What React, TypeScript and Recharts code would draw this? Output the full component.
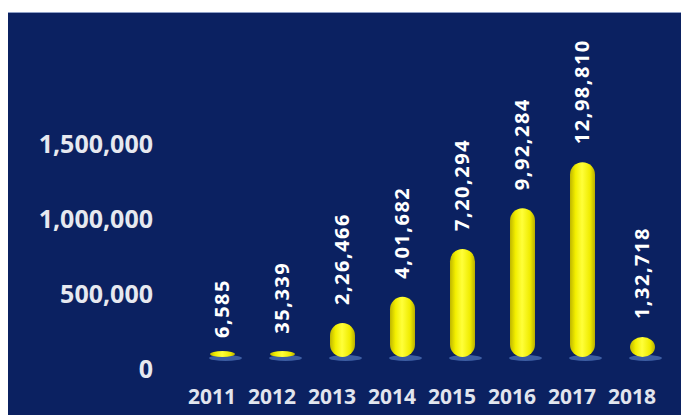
// Yearly totals shown as yellow capsule bars on a navy panel
import { BarChart, Bar, XAxis, YAxis, LabelList } from "recharts";

const years = ["2011", "2012", "2013", "2014", "2015", "2016", "2017", "2018"];
const totals = [6585, 35339, 226466, 401682, 720294, 992284, 1298810, 132718];
const yTicks = [0, 500000, 1000000, 1500000];

const data = years.map((year, i) => ({ year, total: totals[i] }));

const NAVY = "#0b2161";
const FONT = "'Open Sans', 'DejaVu Sans', sans-serif";

// Indian digit grouping: 12,98,810
function indian(n: number) {
  const s = String(n);
  if (s.length <= 3) return s;
  const last3 = s.slice(-3);
  let rest = s.slice(0, -3);
  const parts: string[] = [];
  while (rest.length > 2) {
    parts.unshift(rest.slice(-2));
    rest = rest.slice(0, -2);
  }
  if (rest) parts.unshift(rest);
  return parts.join(",") + "," + last3;
}

function western(n: number) {
  return String(n).replace(/\B(?=(\d{3})+(?!\d))/g, ",");
}

function Capsule(props: any) {
  const { x, y, width, height } = props;
  const h = Math.max(height, 6);
  const top = y + height - h;
  const base = y + height;
  return (
    <g>
      <ellipse cx={x + width / 2 + 3} cy={base + 1} rx={width / 2 + 4} ry={3} fill="#4d72b8" opacity={0.75} />
      <rect x={x} y={top} width={width} height={h} rx={width / 2} ry={Math.min(width / 2, h / 2)} fill="url(#capsuleFill)" />
    </g>
  );
}

function ValueLabel(props: any) {
  const { x, y, width, value } = props;
  const cx = x + width / 2 + 7;
  const ly = y - 18;
  return (
    <text
      x={cx}
      y={ly}
      transform={`rotate(-90 ${cx} ${ly})`}
      textAnchor="start"
      fill="#ffffff"
      fontFamily={FONT}
      fontWeight={700}
      fontSize={20}
      letterSpacing={1.5}
    >
      {indian(value)}
    </text>
  );
}

function XTick(props: any) {
  const { x, payload } = props;
  return (
    <text x={x - 10} y={383} textAnchor="middle" dominantBaseline="central" fill="#e1e5ee" fontFamily={FONT} fontWeight={700} fontSize={21}>
      {payload.value}
    </text>
  );
}

function YTick(props: any) {
  const { x, y, payload } = props;
  return (
    <text x={x - 31} y={y + 11} textAnchor="end" dominantBaseline="central" fill="#e6e9f0" fontFamily={FONT} fontWeight={700} fontSize={25}>
      {western(payload.value)}
    </text>
  );
}

export default function App() {
  return (
    <div style={{ marginTop: 4, width: 681, height: 403, background: NAVY, borderTop: "1px solid #8e9fc6", boxSizing: "border-box" }}>
      <BarChart width={681} height={402} data={data} margin={{ top: 119, right: 17, left: 0, bottom: 0 }}>
        <defs>
          <linearGradient id="capsuleFill" x1="0" y1="0" x2="1" y2="0">
            <stop offset="0%" stopColor="#bfb600" />
            <stop offset="22%" stopColor="#f2ee00" />
            <stop offset="48%" stopColor="#ffff3a" />
            <stop offset="80%" stopColor="#f0ec00" />
            <stop offset="100%" stopColor="#b8ae00" />
          </linearGradient>
        </defs>
        <XAxis dataKey="year" axisLine={false} tickLine={false} height={58} tick={<XTick />} interval={0} />
        <YAxis width={184} domain={[0, 1500000]} ticks={yTicks} axisLine={false} tickLine={false} tick={<YTick />} interval={0} />
        <Bar dataKey="total" barSize={25} shape={<Capsule />} isAnimationActive={false}>
          <LabelList dataKey="total" content={<ValueLabel />} />
        </Bar>
      </BarChart>
    </div>
  );
}
